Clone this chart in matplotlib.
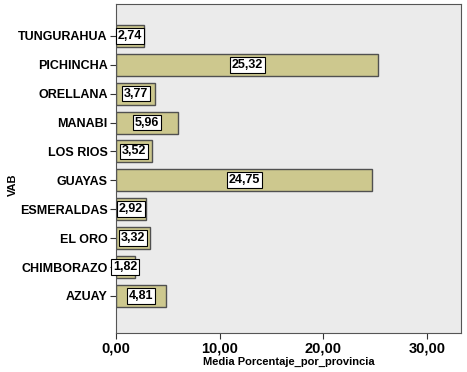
import matplotlib.pyplot as plt
import numpy as np

provincias = ["AZUAY", "CHIMBORAZO", "EL ORO", "ESMERALDAS", "GUAYAS",
              "LOS RIOS", "MANABI", "ORELLANA", "PICHINCHA", "TUNGURAHUA"]
media = [4.81, 1.82, 3.32, 2.92, 24.75, 3.52, 5.96, 3.77, 25.32, 2.74]
xticks = [0, 10, 20, 30]

plt.rcParams['font.family'] = ['Liberation Sans', 'DejaVu Sans']
plt.rcParams['font.weight'] = 'bold'

fig = plt.figure(figsize=(4.67, 3.72), dpi=100)
ax = fig.add_axes([116/467, 1 - 333/372, (461-116)/467, (333-4)/372])
ax.set_facecolor('#ebebeb')

y = np.arange(len(provincias))
ax.barh(y, media, height=0.76, color='#cdc88e', edgecolor='#505050', linewidth=1.0)

for yi, v in zip(y, media):
    ax.text(v / 2, yi, f"{v:.2f}".replace('.', ','), ha='center', va='center',
            fontsize=9, fontweight='bold',
            bbox=dict(boxstyle='square,pad=0.15', fc='white', ec='black', lw=0.8))

ax.set_yticks(y)
ax.set_yticklabels(provincias, fontsize=9, fontweight='bold')
ax.set_xticks(xticks)
ax.set_xticklabels([f"{t:.2f}".replace('.', ',') for t in xticks], fontsize=10.5, fontweight='bold')
ax.set_xlim(0, 33.3)
ax.set_ylim(-1.28, 10.1)
ax.tick_params(direction='out', length=4, width=0.8, pad=2, colors='#333333', labelcolor='black')
for s in ax.spines.values():
    s.set_color('#555555')
    s.set_linewidth(0.8)

ax.set_xlabel("Media Porcentaje_por_provincia", fontsize=8, fontweight='bold', labelpad=1)
ax.set_ylabel("VAB", fontsize=8, fontweight='bold')
ax.yaxis.set_label_coords(-0.285, 0.45)

fig.savefig("out.png", dpi=100)
